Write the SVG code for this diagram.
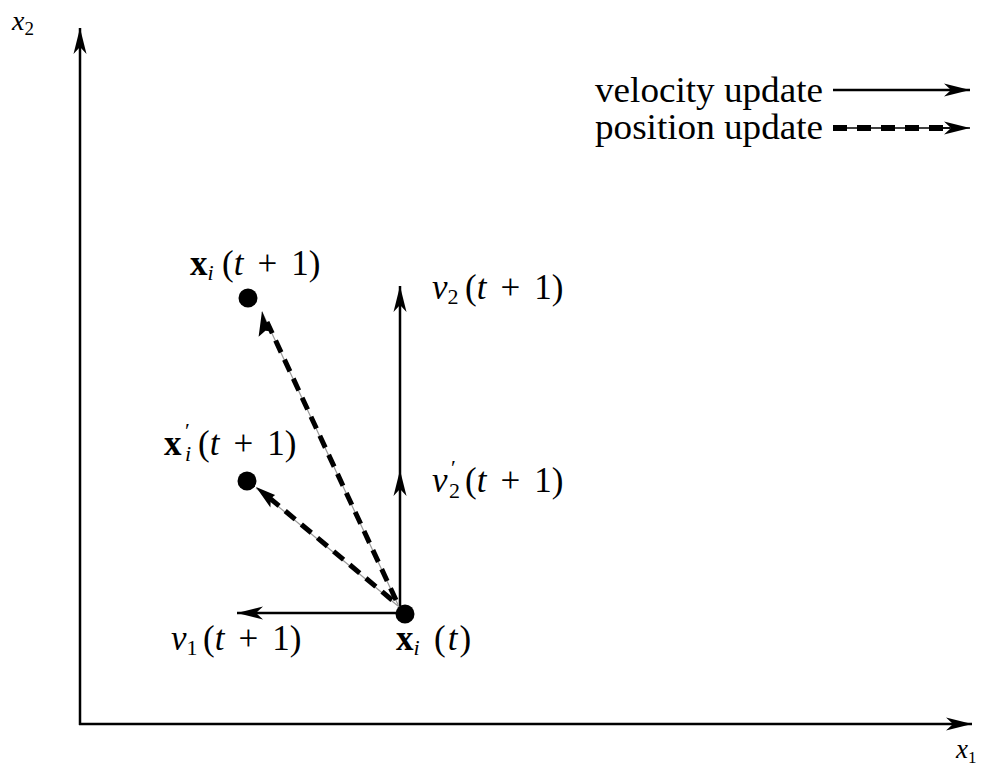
<svg xmlns="http://www.w3.org/2000/svg" width="990" height="767" viewBox="0 0 990 767">
<defs>
<marker id="ah" markerUnits="userSpaceOnUse" markerWidth="30" markerHeight="16" viewBox="-26 -8 28 16" refX="0" refY="0" orient="auto" overflow="visible">
<path d="M0,0 L-26,-6.5 L-19,0 L-26,6.5 Z" fill="#000"/>
</marker>
</defs>
<style>
.ln{stroke:#000;stroke-width:2.5;fill:none}
.ds{stroke:#000;stroke-width:5;fill:none;stroke-dasharray:13 8}
.gr{stroke:#999;stroke-width:1.2;fill:none}
.t{font-family:"Liberation Serif","DejaVu Serif",serif;font-size:35px;fill:#000}
.it{font-style:italic}
.bf{font-weight:bold}
.sb{font-size:22px}
.pr{font-size:22px}
</style>
<rect width="990" height="767" fill="#fff"/>
<g id="connectors">
<line id="axis-x2" class="ln" x1="80" y1="725" x2="80" y2="28" marker-end="url(#ah)"/>
<line id="axis-x1" class="ln" x1="79" y1="724" x2="972" y2="724" marker-end="url(#ah)"/>
<line id="v1" class="ln" x1="404" y1="613" x2="237" y2="613" marker-end="url(#ah)"/>
<polyline id="v2" class="ln" points="400,613 400,470 400,286" marker-mid="url(#ah)" marker-end="url(#ah)"/>
<line class="gr" x1="400" y1="609" x2="262" y2="312"/>
<line id="pos1" class="ds" x1="396" y1="600" x2="267" y2="322"/>
<line class="gr" x1="398" y1="606" x2="256" y2="488"/>
<line id="pos2" class="ds" x1="392" y1="600" x2="266" y2="495"/>
<path d="M262,311 L258.6,336.8 L265.4,330.8 L270.4,331.3 Z" fill="#000"/>
<path d="M256,487 L270.4,507.5 L270.8,498.5 L275.1,494.9 Z" fill="#000"/>
<line id="legend-vel" class="ln" x1="833" y1="90" x2="970" y2="90" marker-end="url(#ah)"/>
<line class="ln" style="stroke-width:1.5" x1="833" y1="128" x2="950" y2="128"/>
<line id="legend-pos" style="stroke:#000;stroke-width:6;stroke-dasharray:14 10" x1="833" y1="128" x2="945" y2="128"/>
<line class="ln" style="stroke-width:1.5" x1="940" y1="128" x2="970" y2="128" marker-end="url(#ah)"/>
</g>
<g id="node-xi-t">
<circle cx="405" cy="614" r="9.5" fill="#000"/>
<text class="t" x="396" y="650"><tspan class="bf">x</tspan><tspan class="it sb" dy="5">i</tspan></text>
<text class="t" x="434" y="650">(<tspan class="it" dx="2">t</tspan><tspan dx="2">)</tspan></text>
</g>
<g id="node-xi-t1">
<circle cx="248" cy="298" r="9.5" fill="#000"/>
<text class="t" x="190" y="275"><tspan class="bf">x</tspan><tspan class="it sb" dy="5">i</tspan></text>
<text class="t" x="222" y="275">(<tspan class="it">t</tspan><tspan dx="14">+</tspan><tspan dx="14">1)</tspan></text>
</g>
<g id="node-xpi-t1">
<circle cx="247" cy="481" r="9.5" fill="#000"/>
<text class="t" x="164" y="455"><tspan class="bf">x</tspan><tspan class="it sb" x="185" dy="6">i</tspan></text>
<text class="t pr" x="185" y="438">′</text>
<text class="t" x="198" y="455">(<tspan class="it">t</tspan><tspan dx="14">+</tspan><tspan dx="14">1)</tspan></text>
</g>
<g id="label-v2">
<text class="t" x="432" y="299"><tspan class="it">v</tspan><tspan class="sb" dy="5">2</tspan></text>
<text class="t" x="465" y="299">(<tspan class="it">t</tspan><tspan dx="14">+</tspan><tspan dx="14">1)</tspan></text>
</g>
<g id="label-vp2">
<text class="t" x="432" y="492"><tspan class="it">v</tspan><tspan class="sb" x="449" dy="6">2</tspan></text>
<text class="t pr" x="451" y="475">′</text>
<text class="t" x="465" y="492">(<tspan class="it">t</tspan><tspan dx="14">+</tspan><tspan dx="14">1)</tspan></text>
</g>
<g id="label-v1">
<text class="t" x="171" y="650"><tspan class="it">v</tspan><tspan class="sb" dy="5">1</tspan></text>
<text class="t" x="203" y="650">(<tspan class="it">t</tspan><tspan dx="14">+</tspan><tspan dx="14">1)</tspan></text>
</g>
<g id="axis-labels">
<text class="t it" x="12" y="30" style="font-size:28px">x<tspan style="font-style:normal;font-size:19px" dy="5">2</tspan></text>
<text class="t it" x="956" y="758" style="font-size:27px">x<tspan style="font-style:normal;font-size:17px" dy="5">1</tspan></text>
</g>
<g id="legend">
<text class="t" x="595" y="102" textLength="228" lengthAdjust="spacingAndGlyphs">velocity update</text>
<text class="t" x="595" y="139" textLength="228" lengthAdjust="spacingAndGlyphs">position update</text>
</g>
</svg>
